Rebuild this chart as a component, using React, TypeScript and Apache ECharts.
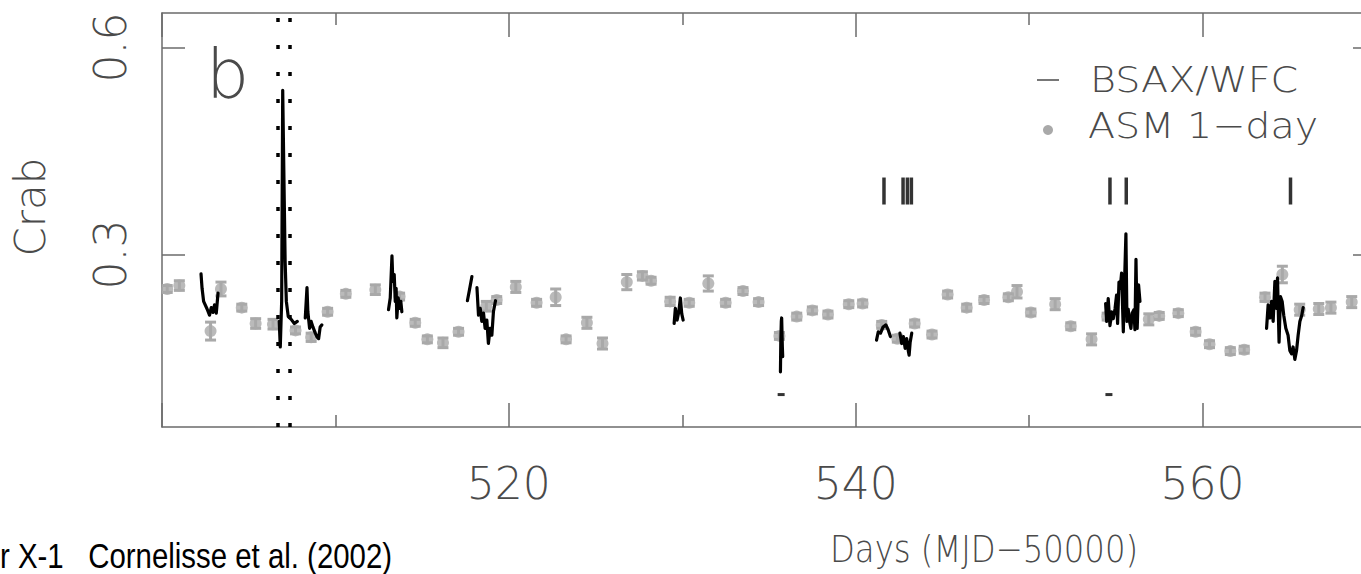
import React, { useEffect, useRef } from "react";
import * as echarts from "echarts";

// RXTE/ASM 1-day averages: day (MJD-50000), flux (Crab), 1-sigma error
const asmDays = [
  500.3, 501.0, 502.8, 503.4, 504.6, 505.4, 506.4, 507.7, 508.6, 509.55,
  510.6, 512.3, 513.7, 514.6, 515.3, 516.2, 517.1, 518.7, 519.3, 520.4,
  521.6, 522.7, 523.3, 524.5, 525.4, 526.8, 527.7, 528.2, 529.3, 530.4,
  531.5, 532.5, 533.5, 534.4, 535.6, 536.6, 537.5, 538.4, 539.6, 540.4,
  541.5, 542.4, 543.4, 544.4, 545.3, 546.4, 547.4, 548.8, 549.3, 550.1,
  551.5, 552.4, 553.6, 554.5, 556.9, 557.5, 558.6, 559.6, 560.4, 561.6,
  562.4, 563.6, 564.6, 565.6, 566.7, 567.4, 568.6,
];
const asmCrab = [
  0.250, 0.255, 0.189, 0.250, 0.223, 0.200, 0.199, 0.190, 0.180, 0.217,
  0.243, 0.249, 0.239, 0.201, 0.177, 0.172, 0.188, 0.225, 0.234, 0.253,
  0.230, 0.238, 0.177, 0.201, 0.171, 0.260, 0.269, 0.262, 0.232, 0.230,
  0.258, 0.230, 0.247, 0.231, 0.182, 0.210, 0.219, 0.213, 0.228, 0.229,
  0.198, 0.178, 0.200, 0.184, 0.242, 0.223, 0.234, 0.238, 0.246, 0.216,
  0.228, 0.196, 0.177, 0.210, 0.206, 0.211, 0.215, 0.188, 0.170, 0.160,
  0.162, 0.238, 0.271, 0.220, 0.221, 0.223, 0.231,
];
const asmErr = [
  0.005, 0.007, 0.013, 0.010, 0.005, 0.007, 0.007, 0.005, 0.006, 0.005,
  0.005, 0.007, 0.005, 0.005, 0.005, 0.007, 0.005, 0.007, 0.005, 0.008,
  0.005, 0.012, 0.005, 0.008, 0.008, 0.011, 0.006, 0.005, 0.006, 0.005,
  0.011, 0.005, 0.005, 0.005, 0.005, 0.005, 0.005, 0.005, 0.005, 0.005,
  0.005, 0.005, 0.005, 0.005, 0.005, 0.005, 0.005, 0.005, 0.009, 0.005,
  0.008, 0.005, 0.008, 0.005, 0.008, 0.005, 0.005, 0.005, 0.005, 0.005,
  0.005, 0.006, 0.012, 0.008, 0.008, 0.008, 0.008,
];

// BeppoSAX/WFC light-curve stretches: [day, Crab]
const wfc502 = [
  [502.25, 0.272], [502.31, 0.251], [502.40, 0.232], [502.60, 0.221],
  [502.74, 0.212], [502.84, 0.223], [502.94, 0.216], [503.03, 0.227],
  [503.13, 0.215], [503.23, 0.244],
];
const wfc507 = [
  [506.76, 0.203], [506.82, 0.166], [506.90, 0.232], [506.96, 0.538],
  [507.05, 0.378], [507.10, 0.290], [507.17, 0.232], [507.28, 0.210],
  [507.45, 0.206], [507.63, 0.200], [507.80, 0.203],
];
const wfc508 = [
  [508.26, 0.208], [508.36, 0.252], [508.41, 0.217], [508.51, 0.193],
  [508.60, 0.203], [508.70, 0.195], [508.84, 0.186], [508.93, 0.181],
  [509.03, 0.178], [509.12, 0.195], [509.22, 0.198],
];
const wfc513 = [
  [513.06, 0.220], [513.16, 0.237], [513.26, 0.298], [513.31, 0.261],
  [513.39, 0.271], [513.45, 0.232], [513.50, 0.251], [513.54, 0.208],
  [513.62, 0.237], [513.69, 0.222], [513.77, 0.232], [513.83, 0.217],
];
const wfc517 = [[517.61, 0.233], [517.73, 0.249], [517.87, 0.268]];
const wfc518 = [
  [518.16, 0.252], [518.25, 0.212], [518.35, 0.222], [518.44, 0.203],
  [518.54, 0.215], [518.63, 0.193], [518.73, 0.205], [518.82, 0.171],
  [518.92, 0.193], [519.02, 0.183], [519.11, 0.217], [519.23, 0.233],
];
const wfc529 = [
  [529.53, 0.200], [529.60, 0.222], [529.70, 0.205], [529.80, 0.217],
  [529.89, 0.237], [529.97, 0.214], [530.05, 0.205],
];
const wfc535 = [
  [535.66, 0.130], [535.68, 0.173], [535.71, 0.203], [535.73, 0.208],
  [535.77, 0.166], [535.79, 0.152],
];
const wfc541 = [
  [541.20, 0.176], [541.30, 0.188], [541.43, 0.186], [541.58, 0.195],
  [541.74, 0.198], [541.87, 0.191], [542.00, 0.181],
];
const wfc542 = [
  [542.55, 0.186], [542.65, 0.171], [542.75, 0.181], [542.85, 0.164],
  [542.94, 0.178], [543.04, 0.159], [543.08, 0.154], [543.14, 0.173],
  [543.23, 0.186],
];
const wfc554 = [
  [554.41, 0.229], [554.47, 0.203], [554.56, 0.236], [554.66, 0.197],
  [554.76, 0.217], [554.85, 0.207], [554.95, 0.221], [555.04, 0.241],
  [555.10, 0.200], [555.18, 0.260], [555.25, 0.251], [555.33, 0.273],
  [555.43, 0.188], [555.50, 0.259], [555.58, 0.330], [555.64, 0.203],
  [555.71, 0.221], [555.79, 0.203], [555.87, 0.193], [555.94, 0.215],
  [556.04, 0.220], [556.10, 0.191], [556.16, 0.293], [556.23, 0.193],
  [556.31, 0.256], [556.39, 0.232],
];
const wfc563 = [
  [563.69, 0.193], [563.78, 0.227], [563.88, 0.208], [563.98, 0.232],
  [564.07, 0.203], [564.17, 0.261], [564.27, 0.222], [564.32, 0.266],
  [564.41, 0.173], [564.49, 0.239], [564.59, 0.232], [564.68, 0.212],
  [564.80, 0.193], [564.93, 0.183], [565.03, 0.161], [565.13, 0.156],
  [565.22, 0.166], [565.32, 0.148], [565.42, 0.161], [565.51, 0.183],
  [565.61, 0.203], [565.72, 0.212], [565.80, 0.223],
];
const wfcStretches = [
  wfc502, wfc507, wfc508, wfc513, wfc517, wfc518, wfc529,
  wfc535, wfc541, wfc542, wfc554, wfc563,
];
// isolated low WFC points
const wfcLow = [[535.7, 0.097], [554.6, 0.097]];

// type-I X-ray burst times
const burstDays = [541.63, 542.73, 542.98, 543.21, 554.66, 555.6, 565.07];
// dotted reference lines around the flare
const flareDays = [506.69, 507.35];

const xTickLabels = [520, 540, 560];
const yTickValues = [0.3, 0.6];

const FONT = "'DejaVu Sans', sans-serif";
const TEXT = "#4a4a4a";
const AXIS = "#6b6b6b";
const GREY = "#a9a9a9";

export default function App() {
  const ref = useRef<HTMLDivElement>(null);

  useEffect(() => {
    const chart = echarts.init(ref.current!, null, { renderer: "svg" });

    const xCommon = {
      type: "value",
      min: 500,
      max: 570,
      interval: 20,
      splitLine: { show: false },
      axisLine: { show: true, lineStyle: { color: AXIS, width: 1.5 } },
      axisTick: { show: true, inside: true, length: 24, lineStyle: { color: AXIS, width: 1.5 } },
      minorTick: { show: true, splitNumber: 2, length: 12, lineStyle: { color: AXIS, width: 1.5 } },
    };
    const yCommon = {
      type: "value",
      min: 0.05,
      max: 0.65,
      splitLine: { show: false },
      axisLine: { show: true, lineStyle: { color: AXIS, width: 1.5 } },
      axisTick: {
        show: true, inside: true, length: 23, customValues: yTickValues,
        lineStyle: { color: AXIS, width: 1.5 },
      },
    };

    const stretchSeries = wfcStretches.map((seg) => ({
      type: "line",
      data: seg,
      symbol: "none",
      lineStyle: { color: "#000", width: 3.2, join: "round", cap: "round" },
      z: 5,
    }));

    chart.setOption({
      animation: false,
      backgroundColor: "#fff",
      grid: {
        left: 162, top: 13, width: 1214, height: 414,
        outerBoundsMode: "none", containLabel: false,
      },
      xAxis: [
        {
          ...xCommon,
          position: "bottom",
          axisLabel: {
            show: true, customValues: xTickLabels, margin: 34,
            fontFamily: FONT, fontWeight: 200, fontSize: 44, color: TEXT,
          },
        },
        { ...xCommon, position: "top", axisLabel: { show: false } },
      ],
      yAxis: [
        {
          ...yCommon,
          position: "left",
          axisLabel: {
            show: true, customValues: yTickValues, rotate: 90, margin: 30,
            fontFamily: FONT, fontWeight: 200, fontSize: 44, color: TEXT,
            formatter: (v: number) => v.toFixed(1),
          },
        },
        { ...yCommon, position: "right", axisLabel: { show: false } },
      ],
      series: [
        {
          type: "custom",
          renderItem: (_p: any, api: any) => {
            const x = api.value(0);
            const lo = api.coord([x, api.value(1)]);
            const hi = api.coord([x, api.value(2)]);
            const hw = 5.5;
            const st = { stroke: GREY, lineWidth: 3 };
            return {
              type: "group",
              children: [
                { type: "line", shape: { x1: lo[0], y1: lo[1], x2: hi[0], y2: hi[1] }, style: st },
                { type: "line", shape: { x1: lo[0] - hw, y1: lo[1], x2: lo[0] + hw, y2: lo[1] }, style: st },
                { type: "line", shape: { x1: hi[0] - hw, y1: hi[1], x2: hi[0] + hw, y2: hi[1] }, style: st },
              ],
            };
          },
          data: asmDays.map((d, i) => [d, asmCrab[i] - asmErr[i], asmCrab[i] + asmErr[i]]),
          encode: { x: 0, y: [1, 2] },
          z: 2,
        },
        {
          type: "scatter",
          data: asmDays.map((d, i) => [d, asmCrab[i]]),
          symbol: "circle",
          symbolSize: 12,
          itemStyle: { color: GREY },
          z: 3,
        },
        ...stretchSeries,
        {
          type: "scatter",
          data: wfcLow,
          symbol: "rect",
          symbolSize: [7, 3],
          itemStyle: { color: "#000" },
          z: 5,
        },
        {
          type: "scatter",
          data: burstDays.map((d) => [d, 0.392]),
          symbol: "rect",
          symbolSize: [3.5, 27],
          itemStyle: { color: "#000" },
          z: 5,
          markLine: {
            silent: true,
            symbol: "none",
            label: { show: false },
            lineStyle: { color: "#000", width: 3.5, type: [4, 23], cap: "butt" },
            data: flareDays.map((d) => ({ xAxis: d })),
          },
        },
      ],
      graphic: [
        {
          type: "text", left: 206, top: 40,
          style: { text: "b", font: `200 68px ${FONT}`, fill: TEXT },
        },
        {
          type: "line",
          shape: { x1: 1037, y1: 80, x2: 1059, y2: 80 },
          style: { stroke: TEXT, lineWidth: 1.5 },
        },
        {
          type: "text", x: 1090, y: 80, scaleX: 1.1,
          style: {
            text: "BSAX/WFC", font: `200 36px ${FONT}`, fill: TEXT,
            verticalAlign: "middle",
          },
        },
        { type: "circle", shape: { cx: 1048, cy: 130, r: 5 }, style: { fill: GREY } },
        {
          type: "text", x: 1088, y: 126, scaleX: 1.1,
          style: {
            text: "ASM 1\u2212day", font: `200 36px ${FONT}`, fill: TEXT,
            verticalAlign: "middle",
          },
        },
        {
          type: "text", x: 30, y: 207, rotation: Math.PI / 2,
          style: {
            text: "Crab", font: `200 42px ${FONT}`, fill: TEXT,
            align: "center", verticalAlign: "middle",
          },
        },
        {
          type: "text", x: 830, y: 549, scaleX: 0.85,
          style: {
            text: "Days (MJD\u221250000)", font: `200 38px ${FONT}`, fill: TEXT,
            verticalAlign: "middle",
          },
        },
        {
          type: "text", x: 0, y: 556, scaleX: 0.84,
          style: {
            text: "r X-1   Cornelisse et al. (2002)",
            font: `35px 'Liberation Sans', Arial, sans-serif`,
            fill: "#000", verticalAlign: "middle",
          },
        },
      ],
    });

    return () => chart.dispose();
  }, []);

  return (
    <div
      ref={ref}
      style={{ position: "absolute", left: 0, top: 0, width: 1361, height: 574, background: "#fff" }}
    />
  );
}
